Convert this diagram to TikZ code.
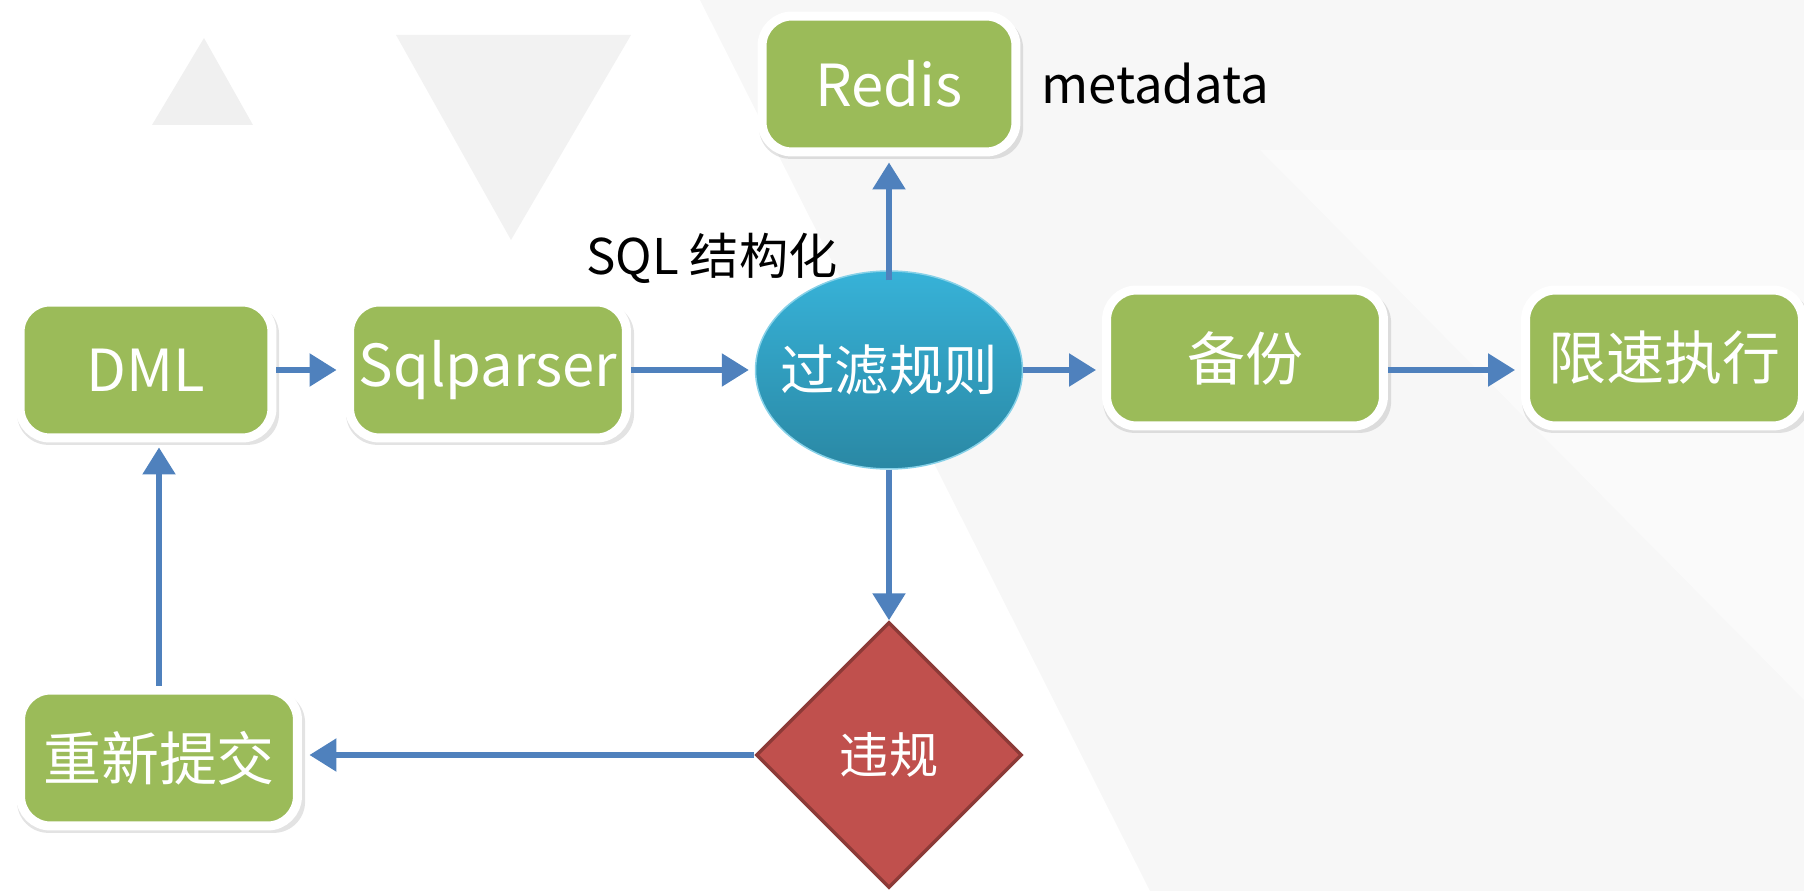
\documentclass[tikz,border=0pt]{standalone}
\usepackage{fontspec}
\setmainfont{Noto Sans CJK SC}
\usetikzlibrary{arrows.meta,shapes.geometric,shadows}
\definecolor{boxgreen}{HTML}{9BBB59}
\definecolor{flowblue}{HTML}{4F81BD}
\definecolor{rulered}{HTML}{C0504D}
\definecolor{ruleedge}{HTML}{8C3A37}
\definecolor{balltop}{HTML}{37B2D8}
\definecolor{ballbot}{HTML}{2A88A4}
\definecolor{bgtri}{HTML}{F7F7F7}
\tikzset{
	box/.style={rounded corners=0.6cm,fill=boxgreen,draw=white,line width=0.18cm,
		text=white,font=\fontsize{33}{40}\selectfont,minimum height=2.72cm,inner sep=0pt,
		drop shadow={opacity=0.22,shadow scale=1.04,shadow xshift=0.04cm,shadow yshift=-0.08cm}},
	flow/.style={draw=flowblue,line width=0.11cm,-{Triangle[length=0.54cm,width=0.64cm]},shorten >=0.12cm},
}
\begin{document}
\begin{tikzpicture}[x=0.02cm,y=-0.02cm]
\useasboundingbox (0,0) rectangle (1804,891);
% faint background
\fill[bgtri] (700,0) -- (1804,0) -- (1804,891) -- (1150,891) -- cycle;
\fill[black!6] (152,125) -- (253,125) -- (204,38) -- cycle;
\fill[black!5] (396,35) -- (631,35) -- (511,240) -- cycle;
\fill[black!2] (1260,150) -- (1804,700) -- (1804,150) -- cycle;

% green steps
\foreach \n/\x/\y/\w/\t in {dml/146/370/5.04/DML,sqlp/488/370/5.54/Sqlparser,
	redis/889/84/5.08/Redis,bak/1245/358/5.54/备份,lim/1664/358/5.54/限速执行,
	resub/159/758/5.54/重新提交}
	\node[box,minimum width=\w cm] (\n) at (\x,\y) {\t};

\node[ellipse,minimum width=5.34cm,minimum height=3.96cm,inner sep=0pt,
	top color=balltop,bottom color=ballbot,draw=balltop!60!white,line width=0.03cm,
	label={[text=white,font=\fontsize{31}{38}\selectfont]center:过滤规则}] (flt) at (889,370) {};
\node[diamond,aspect=1,minimum width=5.32cm,minimum height=5.32cm,inner sep=0pt,
	fill=rulered,draw=ruleedge,line width=0.07cm,text=white,
	font=\fontsize{28}{34}\selectfont] (viol) at (889,755) {违规};

\node[anchor=west,font=\fontsize{29}{36}\selectfont] (meta) at (1035,84) {metadata};
\node[font=\fontsize{28}{34}\selectfont] (sqlst) at (712,258) {SQL 结构化};

\draw[flow,shorten >=0.17cm] (dml) -- (sqlp);
\draw[flow] (sqlp) -- (flt);
\draw[flow] (flt.east) -- (flt.east -| bak.west);
\draw[flow] (bak.east |- flt.east) -- (flt.east -| lim.west);
\draw[flow] ([yshift=-0.2cm]flt.north) -- (redis.south);
\draw[flow,shorten >=0cm] (flt.south) -- (viol.north);
\draw[flow,shorten >=0.15cm] (viol.west) -- (viol.west -| resub.east);
\draw[flow,shorten >=0.1cm] (resub.north) -- (resub.north |- dml.south);
\end{tikzpicture}
\end{document}
